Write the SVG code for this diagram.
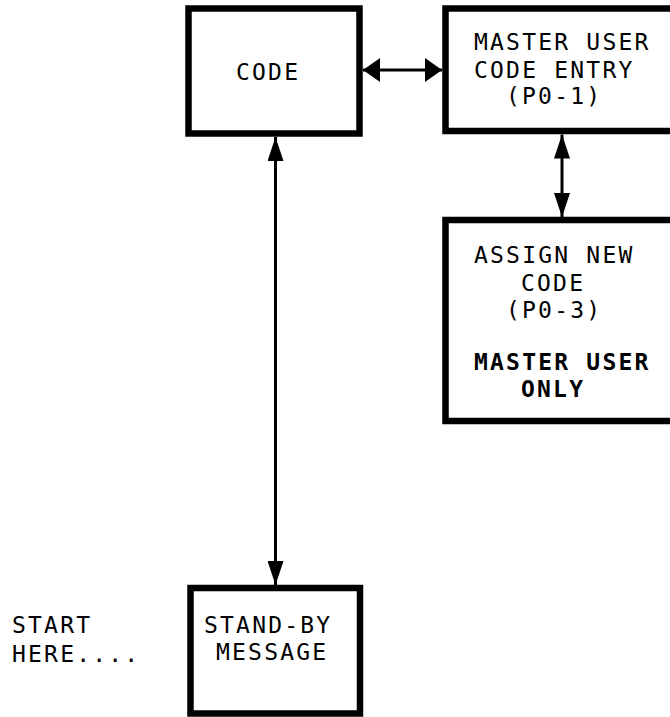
<svg xmlns="http://www.w3.org/2000/svg" width="670" height="717" viewBox="0 0 670 717">
<style>
.box{fill:#fff;stroke:#000;stroke-width:6.5}
.t{font-family:"DejaVu Sans Mono","Liberation Mono",monospace;font-size:23px;letter-spacing:2.2px;fill:#000}
.b{font-weight:bold}
.c{stroke:#000;stroke-width:3;fill:none}
</style>
<defs>
<marker id="hv" viewBox="0 0 24 16" refX="24" refY="8" markerWidth="24" markerHeight="16" markerUnits="userSpaceOnUse" orient="auto-start-reverse">
<path d="M0,0 L24,8 L0,16 z" fill="#000"/>
</marker>
<marker id="hh" viewBox="0 0 17 24" refX="17" refY="12" markerWidth="17" markerHeight="24" markerUnits="userSpaceOnUse" orient="auto-start-reverse">
<path d="M0,0 L17,12 L0,24 z" fill="#000"/>
</marker>
</defs>
<rect width="670" height="717" fill="#fff"/>
<g id="connectors">
<line class="c" x1="363" y1="70" x2="442" y2="70" marker-start="url(#hh)" marker-end="url(#hh)"/>
<line class="c" x1="562" y1="134.5" x2="562" y2="217" marker-start="url(#hv)" marker-end="url(#hv)"/>
<line class="c" x1="275.5" y1="137" x2="275.5" y2="585" marker-start="url(#hv)" marker-end="url(#hv)"/>
</g>
<g id="code">
<rect class="box" x="188.5" y="8.5" width="171" height="125"/>
<text class="t" x="236" y="80">CODE</text>
</g>
<g id="master">
<rect class="box" x="445.5" y="8.5" width="240" height="122.5"/>
<text class="t" x="474" y="50">MASTER USER</text>
<text class="t" x="474" y="78">CODE ENTRY</text>
<text class="t" x="506" y="104">(P0-1)</text>
</g>
<g id="assign">
<rect class="box" x="445.5" y="220" width="240" height="201"/>
<text class="t" x="474" y="263">ASSIGN NEW</text>
<text class="t" x="521" y="291">CODE</text>
<text class="t" x="506" y="318">(P0-3)</text>
<text class="t b" x="474" y="370">MASTER USER</text>
<text class="t b" x="521" y="397">ONLY</text>
</g>
<g id="standby">
<rect class="box" x="190.5" y="588" width="169.5" height="125.5"/>
<text class="t" x="204" y="633">STAND-BY</text>
<text class="t" x="216" y="660">MESSAGE</text>
</g>
<g id="start">
<text class="t" x="12" y="633">START</text>
<text class="t" x="12" y="662">HERE....</text>
</g>
</svg>
